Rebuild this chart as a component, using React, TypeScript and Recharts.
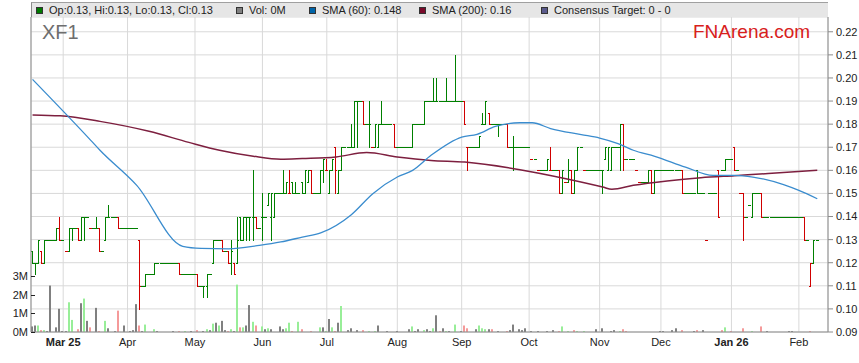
import React from 'react';
import { ComposedChart, Bar, Line, XAxis, YAxis, CartesianGrid } from 'recharts';

type Ohlc = number | [number, number, number, number];

// Daily bars in cents [open, high, low, close]; a plain number means open=high=low=close
const febBars: Ohlc[] = [
  [12.5, 12.5, 12, 12], [12, 12, 11.5, 12], [12, 13, 12, 13], [12.5, 12.5, 12, 12], [12, 13, 12, 13],
  13, 13, 13, [13, 13.5, 13, 13.5], [13.5, 14, 13, 13],
];
const marBars: Ohlc[] = [
  13, 12.5, [12.5, 13.5, 12.5, 13.5], [13.5, 13.5, 13, 13.5], 13.5, [13.5, 13.5, 13, 13],
  [13, 14, 13, 14], [14, 14, 13, 14], 14, 13.5, 13.5, [13.5, 14, 13.5, 13.5], [13.5, 13.5, 12.5, 12.5],
  12.5, [13, 14, 13, 14], [14, 14.5, 14, 14], 14, 14, [14, 14, 13.5, 13.5], 13.5, 13.5,
];
const aprBars: Ohlc[] = [
  13.5, 13.5, 13.5, 13.5, [13, 13, 10, 11], 11, [11, 11.5, 11, 11.5], 11.5, 11.5, [11.5, 12, 11.5, 12],
  12, 12, 12, 12, 12, 12, 12, [12, 12, 11.5, 11.5], 11.5, 11.5, 11.5, 11.5,
];
const mayBars: Ohlc[] = [
  11.5, [11.5, 11.5, 11, 11], 11, [11, 11, 10.5, 11], [11, 11.5, 10.5, 11.5], 11.5, [12, 13, 12, 13],
  13, 13, [13, 13, 12.5, 12.5], 12.5, [12.5, 12.5, 12, 12], [12, 13, 11.5, 12.5], [12, 12, 11.5, 11.5],
  [12, 14, 12, 13], [14, 14, 13, 13], [13, 14, 13, 14], [14, 14, 13, 14], [14, 14, 13, 14],
  [14, 16, 13, 14], [14, 14, 13.5, 13.5], 13.5,
];
const junBars: Ohlc[] = [
  [14, 15, 13, 14], 14, [14.5, 15, 14.5, 15], [14, 15, 13, 15], [14, 15, 14, 15], 15, 15,
  [15, 16, 15, 15], [15, 15.5, 15, 15.5], [15, 16, 15, 15], [15.5, 15.5, 15, 15], [15, 15.5, 15, 15], 15,
  [15.5, 15.5, 15, 15], [15, 16, 15, 16], [15.5, 16, 15.5, 16], [16, 16, 15, 15], 15, 15,
  [15, 16, 15, 16], [16, 16.5, 15.5, 16.5],
];
const julBars: Ohlc[] = [
  [16, 16.5, 16, 16], [15, 16, 15, 16], [16, 16.5, 16, 16.5], [17, 17, 15, 16], [15, 16, 15, 16],
  [16, 17, 16, 17], 17, 17, [17, 18, 17, 17], [17, 19, 17, 19], [19, 19, 17, 19], 19, [19, 19, 18, 18],
  18, [18, 19, 17, 18], 17, [17, 18, 17, 18], [17, 18, 17, 18], [18, 19, 18, 18], 18, 18, 18,
  [18, 18, 17, 17],
];
const augBars: Ohlc[] = [
  17, 17, 17, 17, 17, [17, 18, 17, 18], 18, 18, 18, [18, 19, 18, 19], 19, 19, [19, 20, 19, 19],
  [19, 20, 19, 19], 19, 19, [19, 20, 19, 19], 19, 19, [19, 21, 19, 19], 19,
];
const sepBars: Ohlc[] = [
  19, [19, 19, 18, 18], [17, 17, 16, 17], 17, 17, 17, [17, 17.5, 17, 17.5], [18, 18.5, 18, 18],
  [18, 19, 18, 19], [18.5, 18.5, 18, 18], 18, 18, [18, 18, 17.5, 18], 18, 18, [18, 18, 17, 17], 17,
  [17, 17.5, 16, 17], 17, 17, 17, 17,
];
const octBars: Ohlc[] = [
  17, 16.5, 16.5, 16, 16, 16, [16, 16.5, 16, 16.5], [16, 17, 16, 16], 16, 16, [16, 16, 15, 15],
  [15, 16, 15, 16], 15.5, [15.5, 16.5, 15.5, 16], [16, 16, 15, 15], [15, 16, 15, 16], [16, 17, 16, 17],
  17, 16, 16, 16, 16, 16,
];
const novBars: Ohlc[] = [
  16, [16, 16, 15, 16], [16.5, 17, 16.5, 17], [16, 17, 16, 17], [16, 17, 16, 17], 17, 17,
  [17, 18, 16, 18], [18, 18, 16, 16.5], 16.5, 16.5, 16.5, 16, 15.5, 15.5, 15.5, [15.5, 16, 15.5, 16],
  [16, 16, 15, 15], [15, 16, 15, 16], 16,
];
const decBars: Ohlc[] = [
  16, 16, 16, 16, 16, 16, 16, [16, 16, 15, 15], 15, 15, 15, 15, [16, 16, 15, 15], 15, 15, 13, 15, 15,
  15, [16, 16, 14, 14], 16, [16, 16.5, 16, 16.5], 16.5,
];
const janBars: Ohlc[] = [
  16.5, [17, 17, 16, 16], 16, 15, [15, 15, 13, 14], 14, 14.5, [14, 15, 14, 15], 15, 15,
  [15, 15, 14, 14], 14, 14, 14, 14, 14, 14, 14, 14, 14, 14, 14,
];
const feb26Bars: Ohlc[] = [14, 14, [14, 14, 13, 13], 13, [11, 12, 11, 12], [12, 13, 12, 13], 13];

const priceBars: Ohlc[] = [
  ...febBars, ...marBars, ...aprBars, ...mayBars, ...junBars, ...julBars,
  ...augBars, ...sepBars, ...octBars, ...novBars, ...decBars, ...janBars, ...feb26Bars,
];

// [day index, volume in millions, tone: g = up, r = down, n = unchanged]
const volumeDays: [number, number, string][] = [
  [0, 0.3, 'n'], [1, 0.35, 'n'], [2, 0.35, 'g'], [3, 0.1, 'r'], [4, 0.1, 'g'], [5, 0.05, 'n'], [6, 2.5, 'n'],
  [8, 0.25, 'n'], [9, 1.25, 'n'], [10, 0.05, 'n'], [11, 0.05, 'n'], [12, 1.6, 'g'], [13, 0.65, 'g'],
  [15, 0.15, 'r'], [16, 1.55, 'n'], [17, 1.8, 'g'], [18, 0.6, 'n'], [19, 0.25, 'r'], [21, 1.3, 'n'],
  [22, 0.05, 'r'], [24, 0.6, 'g'], [25, 0.2, 'n'], [27, 0.05, 'n'], [28, 1.15, 'r'], [30, 0.35, 'n'],
  [32, 0.05, 'n'], [33, 0.1, 'n'], [34, 1.5, 'n'], [35, 0.35, 'r'], [36, 0.05, 'n'], [37, 0.4, 'g'],
  [40, 0.15, 'g'], [41, 0.05, 'n'], [46, 0.05, 'n'], [48, 0.05, 'r'], [50, 0.05, 'g'], [52, 0.05, 'n'],
  [54, 0.1, 'r'], [56, 0.05, 'n'], [57, 0.15, 'g'], [58, 0.1, 'n'], [59, 0.45, 'g'], [60, 0.5, 'n'],
  [61, 0.35, 'g'], [62, 0.6, 'n'], [63, 0.1, 'n'], [64, 0.05, 'r'], [65, 0.15, 'g'], [66, 0.05, 'n'],
  [67, 2.55, 'g'], [68, 0.25, 'r'], [69, 0.25, 'g'], [70, 0.35, 'n'], [71, 1.45, 'n'], [72, 0.55, 'g'],
  [73, 0.35, 'r'], [75, 0.3, 'g'], [76, 0.15, 'n'], [77, 0.2, 'g'], [78, 0.15, 'n'], [81, 0.3, 'n'],
  [82, 0.15, 'n'], [83, 0.2, 'g'], [84, 0.5, 'g'], [85, 0.05, 'r'], [87, 0.55, 'g'], [88, 0.15, 'r'],
  [91, 0.05, 'r'], [94, 0.25, 'g'], [95, 0.25, 'n'], [96, 0.05, 'g'], [97, 0.7, 'n'], [98, 0.25, 'g'],
  [99, 0.05, 'r'], [100, 0.5, 'n'], [101, 1.4, 'g'], [103, 0.1, 'n'], [104, 0.2, 'n'], [106, 0.1, 'n'],
  [108, 0.1, 'r'], [110, 0.05, 'g'], [112, 0.05, 'g'], [113, 0.35, 'n'], [116, 0.05, 'n'], [119, 0.05, 'n'],
  [123, 0.15, 'n'], [124, 0.3, 'g'], [125, 0.05, 'n'], [126, 0.15, 'n'], [128, 0.1, 'g'], [129, 0.15, 'n'],
  [130, 0.05, 'n'], [131, 0.2, 'g'], [132, 0.9, 'n'], [133, 0.05, 'r'], [134, 0.2, 'n'], [135, 0.05, 'g'],
  [136, 0.05, 'n'], [138, 0.4, 'g'], [140, 0.05, 'n'], [141, 0.35, 'r'], [142, 0.2, 'r'], [145, 0.15, 'n'],
  [146, 0.35, 'g'], [147, 0.2, 'g'], [148, 0.15, 'g'], [149, 0.15, 'n'], [150, 0.15, 'r'], [152, 0.05, 'n'],
  [155, 0.05, 'r'], [156, 0.1, 'n'], [157, 0.4, 'n'], [159, 0.15, 'n'], [160, 0.1, 'n'], [161, 0.2, 'n'],
  [163, 0.05, 'n'], [165, 0.05, 'n'], [168, 0.05, 'n'], [170, 0.1, 'n'], [172, 0.05, 'r'], [173, 0.3, 'g'],
  [175, 0.05, 'g'], [177, 0.1, 'r'], [178, 0.05, 'g'], [180, 0.05, 'g'], [184, 0.15, 'n'], [186, 0.2, 'n'],
  [189, 0.05, 'n'], [190, 0.1, 'n'], [192, 0.05, 'g'], [193, 0.15, 'r'], [194, 0.05, 'r'], [205, 0.05, 'n'],
  [206, 0.05, 'n'], [209, 0.1, 'n'], [210, 0.2, 'n'], [212, 0.1, 'r'], [216, 0.05, 'n'], [217, 0.1, 'r'],
  [219, 0.1, 'n'], [225, 0.1, 'r'], [226, 0.25, 'g'], [228, 0.05, 'r'], [232, 0.2, 'r'], [235, 0.05, 'g'],
  [238, 0.3, 'r'], [240, 0.05, 'n'], [247, 0.05, 'n'], [248, 0.05, 'n'], [254, 0.05, 'r'],
];

// moving averages at [day index, price]
const sma60Points: [number, number][] = [
  [0, 0.1994], [19, 0.173], [22, 0.1687], [34, 0.1535], [49, 0.1271], [55, 0.1262], [64, 0.126],
  [74, 0.1275], [81, 0.129], [88, 0.1311], [94, 0.1329], [104, 0.1408], [111, 0.1499], [119, 0.1571],
  [124, 0.16], [130, 0.1665], [140, 0.1744], [145, 0.1756], [151, 0.179], [159, 0.1806], [163, 0.1806],
  [169, 0.1781], [179, 0.1755], [185, 0.174], [191, 0.1716], [196, 0.1687], [203, 0.1661], [213, 0.1614],
  [222, 0.1578], [229, 0.1578], [235, 0.1571], [245, 0.1538], [250, 0.1513], [256, 0.1477],
];
const sma200Points: [number, number][] = [
  [0, 0.184], [9, 0.1836], [22, 0.1812], [38, 0.1769], [51, 0.1721], [61, 0.1687], [72, 0.1661],
  [81, 0.1648], [88, 0.1651], [99, 0.1658], [109, 0.1677], [119, 0.1658], [130, 0.1643], [141, 0.1636],
  [159, 0.1603], [174, 0.1564], [186, 0.1528], [189, 0.1518], [196, 0.1535], [207, 0.1554], [218, 0.1568],
  [229, 0.1577], [240, 0.1586], [256, 0.16],
];

const priceTicks = [0.09, 0.1, 0.11, 0.12, 0.13, 0.14, 0.15, 0.16, 0.17, 0.18, 0.19, 0.2, 0.21, 0.22];
const volumeTicks = [0, 1, 2, 3];
const monthLabels = ['Mar 25', 'Apr', 'May', 'Jun', 'Jul', 'Aug', 'Sep', 'Oct', 'Nov', 'Dec', 'Jan 26', 'Feb'];

const GREEN = '#008000';
const RED = '#d00000';
const AXIS = '#8c8c8c';
const GRID = '#d9d9d9';
const toneColors: Record<string, string> = { g: '#98ee98', r: '#f59a9a', n: '#808080' };

// trading-day axis: every weekday from 17 Feb 2025
const days: string[] = [];
for (let t = Date.UTC(2025, 1, 17); days.length < 260; t += 86400000) {
  const wd = new Date(t).getUTCDay();
  if (wd !== 0 && wd !== 6) days.push(new Date(t).toISOString().slice(0, 10));
}
const monthTicks = days.filter((d, i) => i > 0 && d.slice(5, 7) !== days[i - 1].slice(5, 7));

const rows = days.map((d, i) => {
  const row: any = { d };
  const bar = priceBars[i];
  if (bar !== undefined) {
    const [o, h, l, c] = typeof bar === 'number' ? [bar, bar, bar, bar] : bar;
    const prev = priceBars[i - 1];
    const prevClose = prev === undefined ? c : typeof prev === 'number' ? prev : prev[3];
    row.o = o / 100;
    row.h = h / 100;
    row.l = l / 100;
    row.c = c / 100;
    row.hl = [l / 100, h / 100];
    row.up = c >= prevClose;
  }
  return row;
});
volumeDays.forEach(([i, v, tone]) => {
  rows[i].vol = v;
  rows[i].tone = tone;
});
sma60Points.forEach(([i, v]) => (rows[i].sma60 = v));
sma200Points.forEach(([i, v]) => (rows[i].sma200 = v));

const OhlcShape = (props: any) => {
  const { x, y, width, height, payload } = props;
  if (!payload || payload.hl == null) return null;
  const { o, h, l, c, up } = payload;
  const top = Math.min(y, y + height);
  const bottom = Math.max(y, y + height);
  const yAt = (v: number) => (h > l ? top + ((h - v) / (h - l)) * (bottom - top) : top);
  const n = Math.floor(x + width / 2);
  const yo = Math.round(yAt(o)) + 0.5;
  const yc = Math.round(yAt(c)) + 0.5;
  return (
    <g stroke={up ? GREEN : RED} strokeWidth={1} shapeRendering="crispEdges">
      {h > l && <line x1={n + 0.5} x2={n + 0.5} y1={Math.round(top)} y2={Math.round(bottom) + 1} />}
      <line x1={n - 1} x2={n + 1} y1={yo} y2={yo} />
      <line x1={n} x2={n + 2} y1={yc} y2={yc} />
    </g>
  );
};

const VolumeShape = (props: any) => {
  const { x, y, width, height, payload } = props;
  if (!payload || payload.vol == null) return null;
  const n = Math.floor(x + width / 2);
  return <rect x={n - 1} y={y} width={2} height={Math.max(height, 0.8)} fill={toneColors[payload.tone]} />;
};

const MonthTick = (props: any) => {
  const { x, y, payload } = props;
  const label = monthLabels[monthTicks.indexOf(payload.value)] ?? '';
  return (
    <text x={x} y={y + 14} textAnchor="middle" fontSize={11} fill="#222" fontWeight={label.includes(' ') ? 'bold' : 'normal'}>
      {label}
    </text>
  );
};

const VolumeTick = (props: any) => {
  const { x, y, payload } = props;
  const ty = Math.round(y) + 0.5;
  return (
    <g>
      <text x={x} y={ty + 3.5} textAnchor="end" fontSize={11} fill="#222">{`${payload.value}M`}</text>
      <line x1={x + 3} x2={x + 7} y1={ty} y2={ty} stroke="#222" />
    </g>
  );
};

const legendItems = [
  { left: 35, color: '#007a00', text: 'Op:0.13, Hi:0.13, Lo:0.13, Cl:0.13' },
  { left: 235, color: '#808080', text: 'Vol: 0M' },
  { left: 308, color: '#0064a8', text: 'SMA (60): 0.148' },
  { left: 418, color: '#7a0a2a', text: 'SMA (200): 0.16' },
  { left: 540, color: '#5a5a8c', text: 'Consensus Target: 0 - 0' },
];

export default function App() {
  return (
    <div
      style={{
        position: 'absolute', left: 0, top: 0, width: 859, height: 363, background: '#fff',
        fontFamily: '"Liberation Sans", Arial, sans-serif',
      }}
    >
      <ComposedChart width={859} height={363} data={rows} margin={{ top: 17, right: 0, bottom: 0, left: 0 }}>
        <XAxis
          xAxisId="p" dataKey="d" ticks={monthTicks} interval={0} tick={<MonthTick />}
          tickLine={false} tickSize={0} tickMargin={0} height={31} axisLine={{ stroke: AXIS }}
        />
        <XAxis xAxisId="v" dataKey="d" hide />
        <YAxis
          yAxisId="vol" orientation="left" width={31} domain={[0, 16.96]} ticks={volumeTicks} interval={0}
          allowDataOverflow tick={<VolumeTick />} tickLine={false} tickSize={0} tickMargin={3}
          axisLine={{ stroke: AXIS }}
        />
        <YAxis
          yAxisId="price" orientation="right" width={31} domain={[0.09, 0.2264]} ticks={priceTicks} interval={0}
          allowDataOverflow tickFormatter={(v: number) => v.toFixed(2)} tick={{ fontSize: 11, fill: '#222' }}
          tickSize={5} tickMargin={3} tickLine={{ stroke: AXIS }} axisLine={{ stroke: AXIS }}
        />
        <CartesianGrid xAxisId="p" yAxisId="price" stroke={GRID} strokeDasharray="" />
        <Bar xAxisId="v" yAxisId="vol" dataKey="vol" shape={<VolumeShape />} isAnimationActive={false} />
        <Line
          xAxisId="p" yAxisId="price" dataKey="sma200" type="monotone" stroke="#7d1f3f" strokeWidth={1.5}
          dot={false} activeDot={false} connectNulls isAnimationActive={false}
        />
        <Line
          xAxisId="p" yAxisId="price" dataKey="sma60" type="monotone" stroke="#3a8cce" strokeWidth={1.3}
          dot={false} activeDot={false} connectNulls isAnimationActive={false}
        />
        <Bar xAxisId="p" yAxisId="price" dataKey="hl" shape={<OhlcShape />} isAnimationActive={false} />
      </ComposedChart>

      <svg width={859} height={363} style={{ position: 'absolute', left: 0, top: 0, pointerEvents: 'none' }}>
        <text x={42} y={39} fontSize={20} fill="#6e6e6e">XF1</text>
        <text x={693} y={38} fontSize={19} fill="#d8201c">FNArena.com</text>
      </svg>

      <div
        style={{
          position: 'absolute', left: 31, top: 2, width: 797, height: 15, background: '#e6e6e6',
          borderTop: '1px solid #a0a0a0', borderLeft: `1px solid ${AXIS}`, boxSizing: 'border-box',
        }}
      >
        {legendItems.map((it) => (
          <div key={it.text} style={{ position: 'absolute', left: it.left - 31, top: 0, height: 14, display: 'flex', alignItems: 'center', fontSize: 11, color: '#222', whiteSpace: 'nowrap' }}>
            <span style={{ display: 'inline-block', width: 5, height: 5, background: it.color, border: '1px solid #333', marginRight: 6 }} />
            {it.text}
          </div>
        ))}
      </div>
    </div>
  );
}
